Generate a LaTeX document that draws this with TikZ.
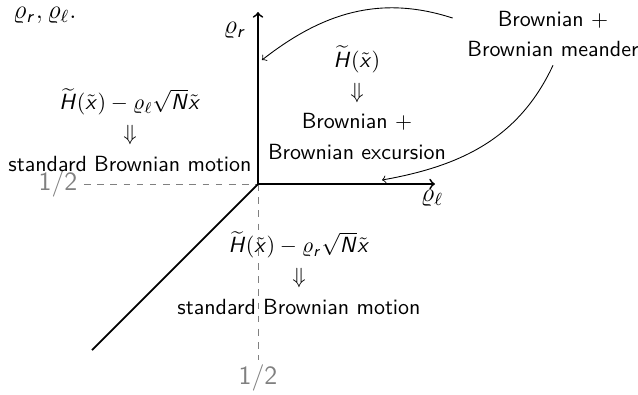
\documentclass[tikz,border=0pt]{standalone}
\usepackage{amsmath}
\usepackage{amssymb}
\usepackage{tikz}
\usetikzlibrary{arrows,positioning}
\renewcommand{\familydefault}{\sfdefault}
\DeclareMathAlphabet{\mathsfit}{OT1}{cmss}{m}{sl}
\newcommand{\Ht}{\widetilde{\mathsfit{H}}(\tilde{\mathsfit{x}})}
\newcommand{\rr}{\varrho_{\mathsfit{r}}}

\begin{document}
\begin{tikzpicture}[>=to, thick,
    axis/.style={draw, ->},
    guide/.style={draw, gray, dashed, thin},
    half/.style={gray, font=\large},
    tag/.style={font=\large},
    blurb/.style={align=center},
    link/.style={draw, ->, thin}]
    \useasboundingbox (-4.128,-3.36) rectangle (6.08,2.944);

    \coordinate (O) at (0,0);
    \coordinate (rtop) at (0,2.752);
    \coordinate (ltop) at (2.832,0);
    \coordinate (diag) at (-2.656,-2.656);
    \coordinate (hstart) at (-2.784,0);
    \coordinate (vend) at (0,-2.816);
    \coordinate (rhit) at (0.064,1.984);
    \coordinate (lhit) at (1.984,0.064);

    \node [tag, anchor=west] (pair) at (-4.05,2.704) {$\rr, \varrho_\ell.$};
    \node [tag] (rlab) at (-0.37,2.464) {$\rr$};
    \node [tag] (llab) at (2.784,-0.224) {$\varrho_\ell$};

    \node [half] (hhalf) at (-3.2,0) {1/2};
    \node [half] (vhalf) at (0,-3.104) {1/2};

    \node [blurb] (left) at (-2.048,0.864) {$\Ht - \varrho_\ell\sqrt{\mathsfit{N}}\tilde{\mathsfit{x}}$\\[2pt] $\Downarrow$\\[2pt] standard Brownian motion};
    \node [blurb] (mid) at (1.584,1.3) {$\Ht$\\[2pt] $\Downarrow$\\[2pt] Brownian $+$\\[2pt] Brownian excursion};
    \node [blurb] (mand) at (4.72,2.4) {Brownian $+$\\[2pt] Brownian meander};
    \node [blurb] (low) at (0.656,-1.424) {$\Ht - \rr\sqrt{\mathsfit{N}}\tilde{\mathsfit{x}}$\\[2pt] $\Downarrow$\\[2pt] standard Brownian motion};

    % where the curved arrows leave the meander text
    \coordinate (mout) at ([xshift=-3pt,yshift=-7pt]mand.north west);

    \path [guide] (hstart) -- (O);
    \path [guide] (O) -- (vend);
    \path [axis] (O) -- (rtop);
    \path [axis] (O) -- (ltop);
    \draw (O) -- (diag);

    \path [link] (mout) to[out=162,in=38] (rhit);
    \path [link] (mand.south) to[out=245,in=10] (lhit);

\end{tikzpicture}
\end{document}
